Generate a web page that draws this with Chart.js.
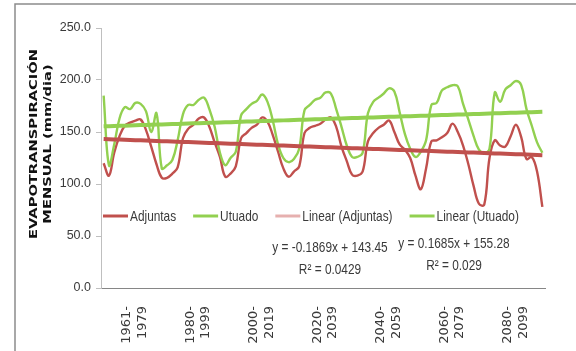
<!DOCTYPE html>
<html>
<head>
<meta charset="utf-8">
<script src="https://cdn.jsdelivr.net/npm/chart.js@4.4.1/dist/chart.umd.min.js"></script>
<style>
  html, body { margin: 0; padding: 0; background: #ffffff; }
  #wrap { width: 576px; height: 351px; position: relative; }
</style>
</head>
<body>
<div id="wrap"><canvas id="chart" width="576" height="351"></canvas></div>
<script>
// Period labels, one per block of 12 monthly values
const periods = [
  ["1961-", "1979"], ["1980-", "1999"], ["2000-", "2019"], ["2020-", "2039"],
  ["2040-", "2059"], ["2060-", "2079"], ["2080-", "2099"]
];
const monthsPerPeriod = 12;
const labelMonth = 5;

// Monthly evapotranspiration (mm/dia), Adjuntas
const adjuntas = [
  120, 108, 130, 146, 156, 159, 161, 162, 152, 136, 119, 106,
  106, 110, 116, 144, 153, 157, 163, 164, 155, 140, 126, 107,
  110, 117, 144, 149, 154, 157, 164, 160, 147, 131, 115, 107,
  112, 117, 149, 154, 156, 158, 162, 164, 155, 136, 122, 109,
  108, 112, 141, 149, 154, 157, 161, 150, 138, 133, 125, 108,
   95, 115, 141, 142, 145, 149, 158, 150, 137, 119,  98,  81,
   80, 125, 142, 137, 136, 146, 157, 145, 124, 126, 112,  78
];

// Monthly evapotranspiration (mm/dia), Utuado
const utuado = [
  185, 118, 138, 163, 174, 172, 178, 177, 170, 150, 168, 115,
  118, 123, 142, 167, 176, 176, 181, 183, 172, 155, 130, 118,
  125, 131, 166, 172, 177, 180, 186, 179, 161, 138, 125, 121,
  124, 134, 171, 176, 181, 183, 188, 187, 172, 155, 137, 126,
  126, 130, 168, 179, 183, 187, 192, 189, 169, 148, 134, 126,
  131, 142, 176, 178, 190, 193, 195, 194, 177, 162, 146, 133,
  130, 134, 188, 179, 191, 195, 199, 195, 172, 156, 140, 130
];

// Linear trend fits: y = slope * x + intercept, x = 1..n
const seriesNames = ["Adjuntas", "Utuado"];
const trendSlopes = [-0.1869, 0.1685];
const trendIntercepts = [143.45, 155.28];
const trendR2 = ["0.0429", "0.029"];

const yMin = 0, yMax = 250, yStep = 50;

const RED = "#c0504d";
const GREEN = "#92d050";
const PINK = "#e6b0af";

const labels = [];
periods.forEach(p => {
  for (let m = 0; m < monthsPerPeriod; m++) labels.push(m === labelMonth ? p : "");
});

function trendValues(k, n) {
  const out = [];
  for (let x = 1; x <= n; x++) out.push(trendSlopes[k] * x + trendIntercepts[k]);
  return out;
}

function fmt(v, d) { return v.toFixed(d); }
function equationText(k) {
  const s = trendSlopes[k];
  const sign = s < 0 ? "-" : "";
  return "y = " + sign + fmt(Math.abs(s), 4) + "x + " + fmt(trendIntercepts[k], 2);
}

const datasets = [
  { label: seriesNames[0], data: adjuntas, borderColor: RED, borderWidth: 2.4,
    tension: 0.4, pointRadius: 0, fill: false, order: 3, legendColor: RED },
  { label: seriesNames[1], data: utuado, borderColor: GREEN, borderWidth: 2.4,
    tension: 0.4, pointRadius: 0, fill: false, order: 2, legendColor: GREEN },
  { label: "Linear (" + seriesNames[0] + ")", data: trendValues(0, adjuntas.length),
    borderColor: RED, borderWidth: 4, tension: 0, pointRadius: 0, fill: false,
    order: 1, legendColor: PINK },
  { label: "Linear (" + seriesNames[1] + ")", data: trendValues(1, utuado.length),
    borderColor: GREEN, borderWidth: 4, tension: 0, pointRadius: 0, fill: false,
    order: 0, legendColor: GREEN }
];

const TEXT = "#3a3a3a";
const SANS = '"Liberation Sans", Arial, sans-serif';
const NARROW_SCALE = 0.79;

// Condensed text: horizontally squeezed glyphs
function narrowText(ctx, text, x, y, align) {
  ctx.save();
  ctx.translate(x, y);
  ctx.scale(NARROW_SCALE, 1);
  ctx.textAlign = align;
  ctx.fillText(text, 0, 0);
  ctx.restore();
  return ctx.measureText(text).width * NARROW_SCALE;
}

// Frame, axis title, in-plot legend and trend equations
const decorations = {
  id: "decorations",
  beforeDraw(chart) {
    const ctx = chart.ctx;
    ctx.save();
    ctx.fillStyle = "#ffffff";
    ctx.fillRect(0, 0, chart.width, chart.height);
    ctx.strokeStyle = "#8c8c8c";
    ctx.lineWidth = 1.5;
    ctx.beginPath();
    ctx.moveTo(15, chart.height + 2);
    ctx.lineTo(15, 4);
    ctx.lineTo(chart.width + 2, 4);
    ctx.stroke();
    ctx.restore();
  },
  afterDraw(chart) {
    const ctx = chart.ctx;
    const area = chart.chartArea;

    // Y axis title (two lines, rotated)
    const titleLines = ["EVAPOTRANSPIRACIÓN", "MENSUAL (mm/dia)"];
    ctx.save();
    ctx.font = 'bold 11px "DejaVu Sans", sans-serif';
    const stretch = 190 / ctx.measureText(titleLines[0]).width;
    ctx.fillStyle = "#111111";
    ctx.textAlign = "center";
    ctx.textBaseline = "middle";
    [34, 48].forEach((x, i) => {
      ctx.save();
      ctx.translate(x, 144);
      ctx.rotate(-Math.PI / 2);
      ctx.scale(stretch, 1);
      ctx.fillText(titleLines[i], 0, 0);
      ctx.restore();
    });
    ctx.restore();

    // Legend inside the plot area
    ctx.save();
    ctx.font = "15px " + SANS;
    ctx.textBaseline = "middle";
    ctx.fillStyle = TEXT;
    let x = area.left + 2;
    const y = 216;
    chart.data.datasets.forEach(ds => {
      ctx.strokeStyle = ds.legendColor;
      ctx.lineWidth = 3;
      ctx.beginPath();
      ctx.moveTo(x, y);
      ctx.lineTo(x + 25, y);
      ctx.stroke();
      x += 27;
      x += narrowText(ctx, ds.label, x, y + 1, "left") + 17;
    });

    // Trend equations
    const eqPos = [[330, 248, 270], [454, 244, 266]];
    eqPos.forEach((p, k) => {
      narrowText(ctx, equationText(k), p[0], p[1], "center");
      narrowText(ctx, "R² = " + trendR2[k], p[0], p[2], "center");
    });
    ctx.restore();
  }
};

new Chart(document.getElementById("chart"), {
  type: "line",
  data: { labels: labels, datasets: datasets },
  options: {
    responsive: false,
    devicePixelRatio: 1,
    animation: false,
    layout: { padding: { top: 28, right: 31, left: 0, bottom: 0 } },
    plugins: { legend: { display: false }, tooltip: { enabled: false } },
    scales: {
      x: {
        type: "category",
        offset: true,
        grid: { display: false },
        border: { display: true, color: "#868686", width: 1 },
        ticks: {
          autoSkip: false, maxRotation: 90, minRotation: 90, padding: 10,
          labelOffset: -3,
          color: TEXT, font: { family: '"DejaVu Sans", sans-serif', size: 13 }
        },
        afterFit(s) { s.height = 63; }
      },
      y: {
        min: yMin, max: yMax,
        grid: { drawOnChartArea: false, drawTicks: true, tickLength: 5, color: "#bfbfbf" },
        border: { display: true, color: "#bfbfbf", width: 1 },
        ticks: {
          stepSize: yStep, padding: 5, color: TEXT,
          font: { family: SANS, size: 12.5 },
          callback: v => v.toFixed(1)
        },
        afterFit(s) { s.width = 101; }
      }
    }
  },
  plugins: [decorations]
});
</script>
</body>
</html>
